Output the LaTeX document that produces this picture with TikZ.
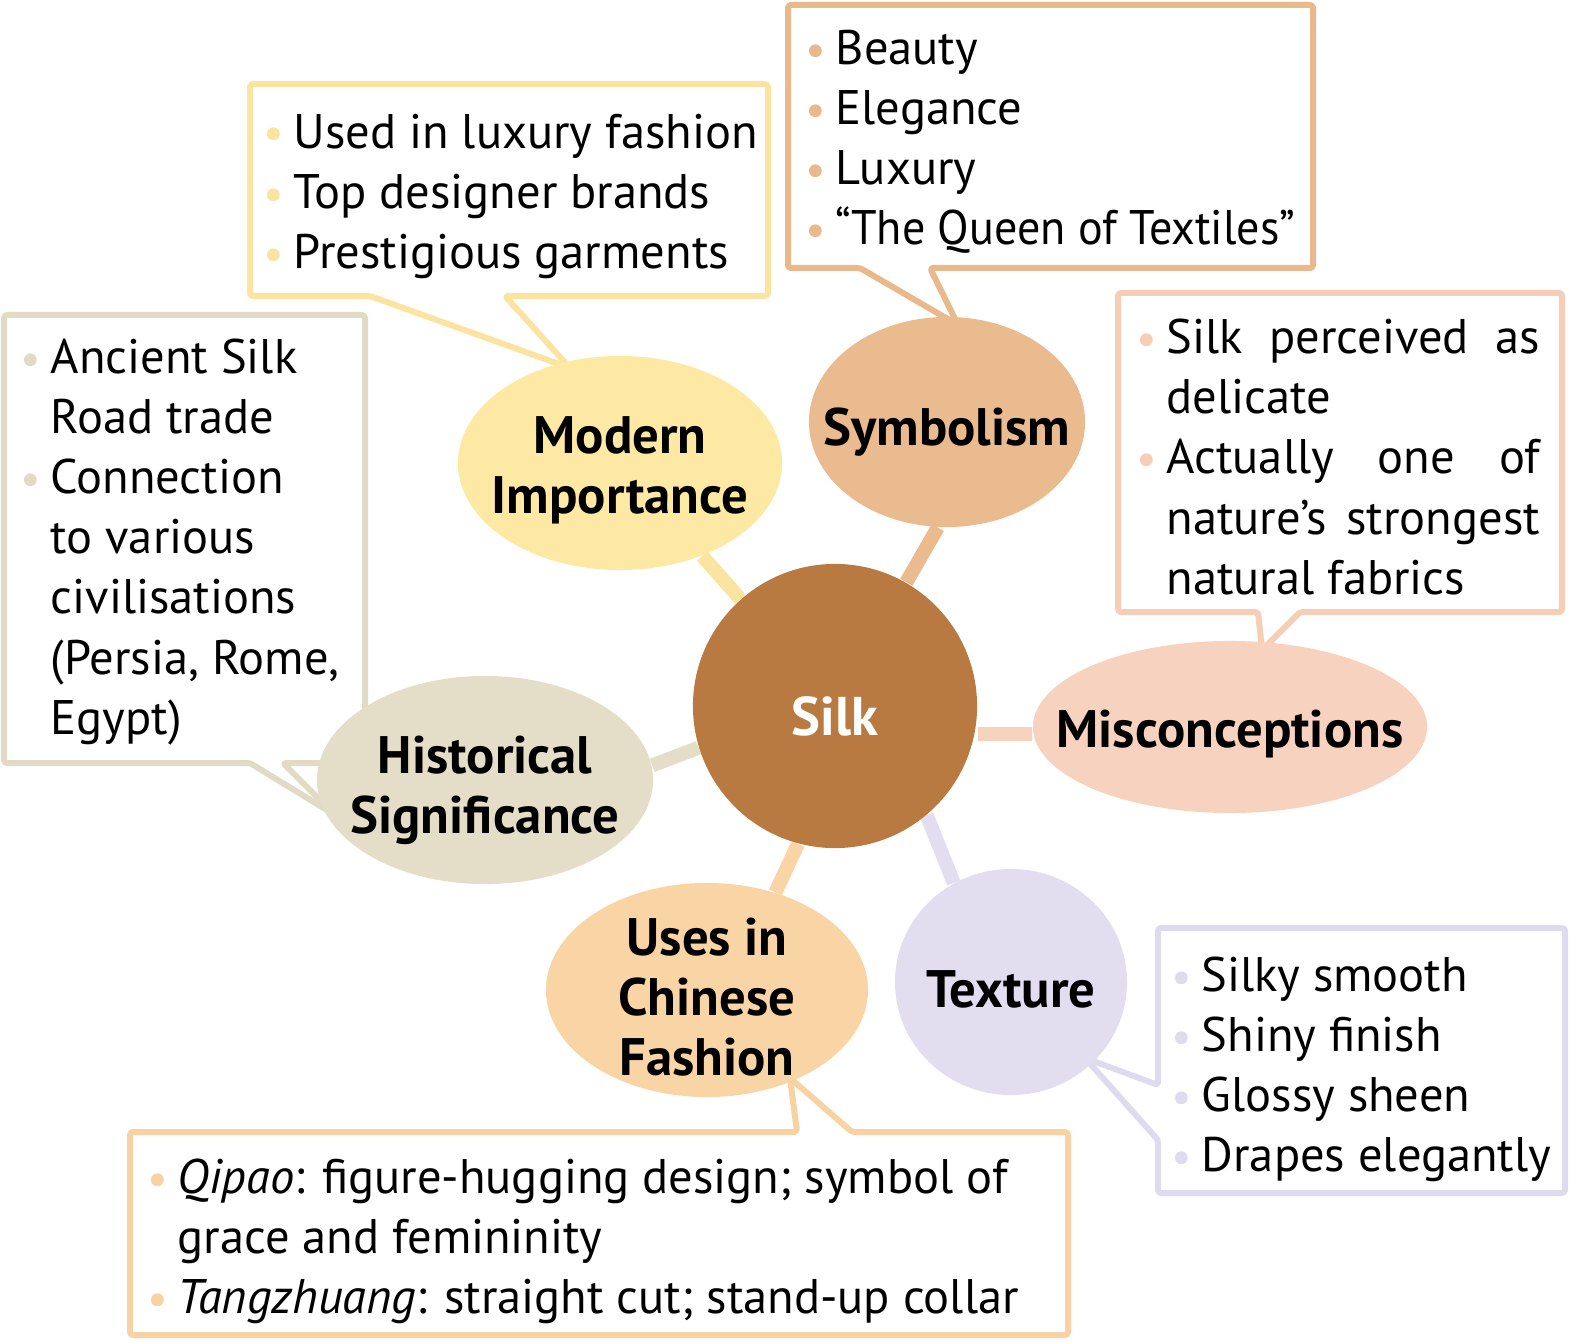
\documentclass[tikz,border=0pt]{standalone}
\usepackage{fontspec}
\setmainfont{PT Sans}
\usetikzlibrary{shapes.geometric,backgrounds}

\definecolor{silkbrown}{HTML}{B87A40}
\definecolor{modfill}{HTML}{FDE9A4}
\definecolor{modline}{HTML}{FBE4A0}
\definecolor{symfill}{HTML}{EABB8E}
\definecolor{symline}{HTML}{EAB98B}
\definecolor{hisfill}{HTML}{E4DDC8}
\definecolor{hisline}{HTML}{E1DAC4}
\definecolor{misfill}{HTML}{F7D3BF}
\definecolor{misline}{HTML}{F6CDB5}
\definecolor{texfill}{HTML}{E2DEEF}
\definecolor{texline}{HTML}{DFDBEE}
\definecolor{usefill}{HTML}{F9D5A6}
\definecolor{useline}{HTML}{F8D2A2}

\newlength\bulw \setlength\bulw{0.25cm}
\newlength\miswd \setlength\miswd{3.73cm}
\newcommand\bul[1]{\makebox[\bulw][l]{\hspace*{-1.5pt}\textcolor{#1}{\raisebox{-0.02em}{\fontsize{13}{13}\selectfont\textbullet}}}}
\newcommand\nob{\hspace*{\bulw}}

\tikzset{
  topic/.style={ellipse, inner sep=0pt},
  lab/.style={align=center, inner sep=0pt, yshift=-2pt, font=\bfseries\fontsize{15}{17.07}\selectfont},
  link/.style={line width=0.14cm},
  callout/.style={fill=white, line width=0.06cm, rounded corners=0.03cm, line join=round},
  items/.style={anchor=west, align=left, inner sep=0pt, font=\fontsize{13.8}{17.07}\selectfont},
}

\begin{document}
\begin{tikzpicture}[x=0.01cm, y=-0.01cm]
\useasboundingbox (0,0) rectangle (1573,1343);

% centre and topics
\node[circle, fill=silkbrown, minimum size=2.84cm, inner sep=0pt,
  label={[lab, yshift=-1pt, text=white, font=\bfseries\fontsize{15.5}{17}\selectfont]center:Silk}] (silk) at (835,706) {};
\node[topic, fill=modfill, minimum width=3.24cm, minimum height=2.14cm,
  label={[lab]center:Modern\\Importance}] (mod) at (620,463) {};
\node[topic, fill=symfill, minimum width=2.76cm, minimum height=2.10cm,
  label={[lab, yshift=-1pt]center:Symbolism}] (sym) at (947,422) {};
\node[topic, fill=misfill, minimum width=3.94cm, minimum height=1.72cm,
  label={[lab]center:Misconceptions}] (mis) at (1230,727) {};
\node[topic, fill=texfill, minimum width=2.32cm, minimum height=2.26cm,
  label={[lab]center:Texture}] (tex) at (1011,982) {};
\node[topic, fill=usefill, minimum width=3.22cm, minimum height=2.14cm,
  label={[lab]center:Uses in\\Chinese\\Fashion}] (use) at (707,990) {};
\node[topic, fill=hisfill, minimum width=3.36cm, minimum height=2.08cm,
  label={[lab, yshift=-1pt]center:Historical\\Significance}] (his) at (485,780) {};

% callout boxes and links
\begin{pgfonlayer}{background}
  \draw[callout, draw=modline] (250,84) -- (768,84) -- (768,296) -- (505,296) -- (570,368) -- (370,296) -- (250,296) -- cycle;
  \draw[callout, draw=symline] (788,5) -- (1313,5) -- (1313,268) -- (930,268) -- (958,325) -- (860,268) -- (788,268) -- cycle;
  \draw[callout, draw=hisline] (4,315) -- (365,315) -- (365,763) -- (283,763) -- (335,815) -- (250,763) -- (4,763) -- cycle;
  \draw[callout, draw=misline] (1118,293) -- (1562,293) -- (1562,612) -- (1300,612) -- (1262,650) -- (1258,612) -- (1118,612) -- cycle;
  \draw[callout, draw=texline] (1158,928) -- (1565,928) -- (1565,1193) -- (1158,1193) -- (1158,1140) -- (1085,1058) -- (1158,1085) -- cycle;
  \draw[callout, draw=useline] (130,1132) -- (797,1132) -- (790,1078) -- (852,1132) -- (1068,1132) -- (1068,1335) -- (130,1335) -- cycle;
  \draw[link, modline] (silk) -- (mod);
  \draw[link, symfill] (silk) -- (sym.265);
  \draw[link, misfill] ([yshift=-8pt]silk.east) -- ([yshift=-2pt]mis.west);
  \draw[link, texfill] (silk.-50) -- (tex.120);
  \draw[link, usefill] (silk.-105) -- (use.55);
  \draw[link, hisfill] (silk.197) -- (his.5);
\end{pgfonlayer}

% callout texts
\node[items] (moditems) at (268,196) {\bul{modline}Used in luxury fashion\\
  \bul{modline}Top designer brands\\
  \bul{modline}Prestigious garments};
\node[items] (symitems) at (810,142) {\bul{symline}Beauty\\
  \bul{symline}Elegance\\
  \bul{symline}Luxury\\
  \bul{symline}\scalebox{0.95}[1]{“The Queen of Textiles”}};
\node[items] (hisitems) at (25,542) {\bul{hisline}Ancient Silk\\
  \nob Road trade\\
  \bul{hisline}Connection\\
  \nob to various\\
  \nob civilisations\\
  \nob (Persia, Rome,\\
  \nob Egypt)};
\node[items] (misitems) at (1141,457) {\bul{misline}\makebox[\miswd][s]{Silk perceived as}\\
  \nob delicate\\
  \bul{misline}\makebox[\miswd][s]{Actually one of}\\
  \nob\makebox[\miswd][s]{nature’s strongest}\\
  \nob natural fabrics};
\node[items] (texitems) at (1176,1069) {\bul{texline}Silky smooth\\
  \bul{texline}Shiny finish\\
  \bul{texline}Glossy sheen\\
  \bul{texline}Drapes elegantly};
\node[items] (useitems) at (152,1241) {\bul{useline}\textit{Qipao}: figure-hugging design; symbol of\\
  \nob grace and femininity\\
  \bul{useline}\textit{Tangzhuang}: straight cut; stand-up collar};
\end{tikzpicture}
\end{document}
